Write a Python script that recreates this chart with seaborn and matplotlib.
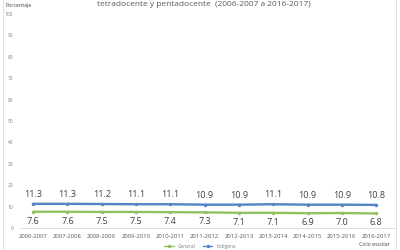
import matplotlib
matplotlib.use("Agg")
import matplotlib.pyplot as plt
import seaborn as sns
import pandas as pd
from matplotlib.patches import Rectangle
from matplotlib.lines import Line2D

ciclos = ["2006-2007", "2007-2008", "2008-2009", "2009-2010", "2010-2011", "2011-2012",
          "2012-2013", "2013-2014", "2014-2015", "2015-2016", "2016-2017"]
general = [7.6, 7.6, 7.5, 7.5, 7.4, 7.3, 7.1, 7.1, 6.9, 7.0, 6.8]
indigena = [11.3, 11.3, 11.2, 11.1, 11.1, 10.9, 10.9, 11.1, 10.9, 10.9, 10.8]
yticks = list(range(0, 101, 10))

sns.set_theme(style="white")
plt.rcParams['font.family'] = ['Open Sans', 'DejaVu Sans']

df = pd.DataFrame({
    "Ciclo": ciclos * 2,
    "idx": list(range(len(ciclos))) * 2,
    "Porcentaje": general + indigena,
    "Tipo": ["General"] * len(ciclos) + ["Indígena"] * len(ciclos),
})

fig = plt.figure(figsize=(4, 2.5), dpi=100)
ax = fig.add_axes([0.05, 0.088, 0.9375, 0.856])
colors = {"General": "#8fc25f", "Indígena": "#5584c4"}
sns.lineplot(data=df, x="idx", y="Porcentaje", hue="Tipo", palette=colors, marker="o",
             markersize=2.5, markeredgewidth=0, linewidth=1.7, ax=ax, legend=False)

for i, v in enumerate(indigena):
    ax.annotate(f"{v:.1f}", (i, v), xytext=(0, 3.5), textcoords="offset points",
                ha="center", va="bottom", fontsize=6.5, color="#404040")
for i, v in enumerate(general):
    ax.annotate(f"{v:.1f}", (i, v), xytext=(0, -3.5), textcoords="offset points",
                ha="center", va="top", fontsize=6.5, color="#404040")

ax.set_xlim(-0.38, 10.55)
ax.set_ylim(0, 100)
ax.set_yticks(yticks)
ax.set_yticklabels([str(t) for t in yticks], fontsize=3.5, color="#808080")
ax.set_xticks(range(len(ciclos)))
ax.set_xticklabels(ciclos, fontsize=4.3, color="#595959")
ax.tick_params(axis="x", length=0, pad=4)
ax.tick_params(axis="y", length=0, pad=5)
for s in ["top", "right", "left"]:
    ax.spines[s].set_visible(False)
ax.spines["bottom"].set_color("#d9d9d9")
ax.spines["bottom"].set_linewidth(0.6)
ax.set_xlabel("")
ax.set_ylabel("")

fig.text(0.015, 0.978, "Porcentaje", fontsize=3.8, color="#404040", ha="left", va="center")
fig.text(0.975, 0.012, "Ciclo escolar", fontsize=3.8, color="#404040", ha="right", va="bottom")
fig.text(0.51, 0.98, "tetradocente y pentadocente  (2006-2007 a 2016-2017)", fontsize=6,
         color="#595959", ha="center", va="center")

handles = [Line2D([0], [0], color=colors["General"], lw=1, marker="o", markersize=1.5),
           Line2D([0], [0], color=colors["Indígena"], lw=1, marker="o", markersize=1.5)]
fig.legend(handles, ["General", "Indígena"], loc="center", bbox_to_anchor=(0.5, 0.014),
           ncol=2, frameon=False, fontsize=3.5, handlelength=2, columnspacing=1.5,
           labelcolor="#808080", borderaxespad=0, borderpad=0)

fig.patches.append(Rectangle((0.008, -0.01), 0.982, 1.02, transform=fig.transFigure,
                             fill=False, edgecolor="#d9d9d9", linewidth=0.6))

fig.savefig("out.png", dpi=100)
